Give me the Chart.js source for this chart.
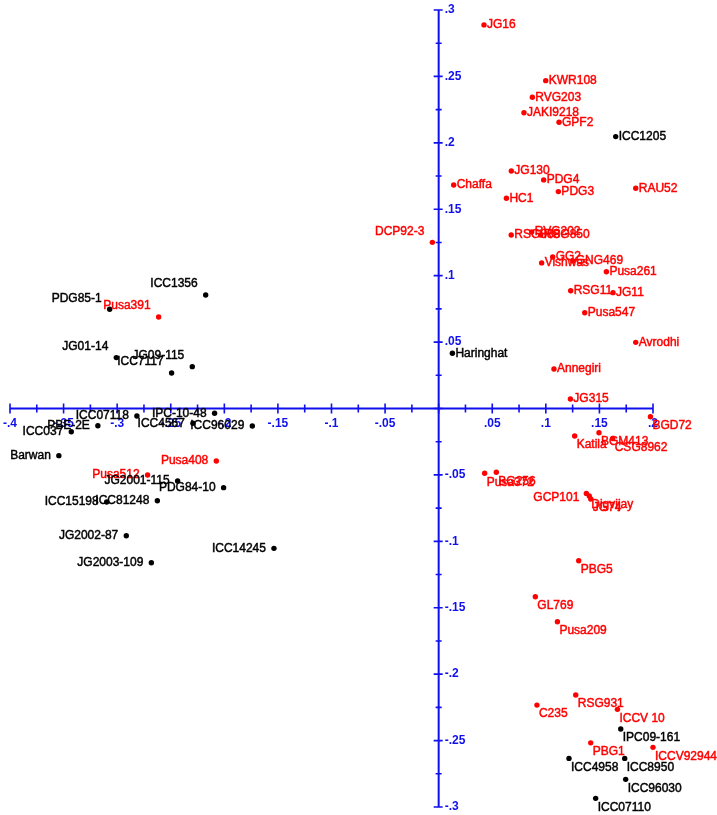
<!DOCTYPE html>
<html>
<head>
<meta charset="utf-8">
<title>Genotype scatter</title>
<script src="https://cdn.jsdelivr.net/npm/chart.js@4.4.0/dist/chart.umd.min.js"></script>
<style>
    html, body { margin: 0; padding: 0; background: #fff; }
    #wrap { width: 717px; height: 815px; }
</style>
</head>
<body>
<div id="wrap"><canvas id="pcaChart" width="717" height="815"></canvas></div>
<script>
// Genotipos en rojo
const redNames = ['JG16', 'KWR108', 'RVG203', 'JAKI9218', 'GPF2', 'JG130', 'Chaffa', 'PDG4', 'PDG3', 'RAU52',
    'HC1', 'DCP92-3', 'RSG888', 'RVG202', 'RSG850', 'Vishwas', 'GG2', 'GNG469', 'Pusa261', 'RSG11',
    'JG11', 'Pusa547', 'Avrodhi', 'Annegiri', 'JG315', 'BGD72', 'BGM413', 'Katila', 'CSG8962', 'Pusa372',
    'BG256', 'GCP101', 'Digvijay', 'JG74', 'PBG5', 'GL769', 'Pusa209', 'RSG931', 'C235', 'ICCV 10',
    'PBG1', 'ICCV92944', 'Pusa391', 'Pusa408', 'Pusa512'];
const redX = [0.0423, 0.0999, 0.0874, 0.0796, 0.1123, 0.0678, 0.0140, 0.0980, 0.1117, 0.1839,
    0.0632, -0.0059, 0.0677, 0.0868, 0.0952, 0.0961, 0.1064, 0.1251, 0.1565, 0.1232,
    0.1627, 0.1363, 0.1839, 0.1076, 0.1229, 0.1976, 0.1496, 0.1269, 0.1624, 0.0429,
    0.0538, 0.1378, 0.1405, 0.1419, 0.1307, 0.0902, 0.1108, 0.1279, 0.0917, 0.1668,
    0.1419, 0.2000, -0.2613, -0.2075, -0.2716];
const redY = [0.2888, 0.2468, 0.2343, 0.2227, 0.2155, 0.1788, 0.1683, 0.1721, 0.1633, 0.1658,
    0.1583, 0.1251, 0.1306, 0.1329, 0.1306, 0.1096, 0.1141, 0.1111, 0.1030, 0.0887,
    0.0872, 0.0721, 0.0498, 0.0297, 0.0072, -0.0062, -0.0182, -0.0207, -0.0226, -0.0488,
    -0.0480, -0.0639, -0.0659, -0.0681, -0.1146, -0.1417, -0.1605, -0.2157, -0.2233, -0.2265,
    -0.2517, -0.2551, 0.0689, -0.0395, -0.0501];
// posición de la etiqueta (reloj)
const redLabelPos = [3, 3, 3, 3, 3, 3, 3, 3, 3, 3,
    3, 11, 3, 3, 3, 3, 3, 3, 3, 3,
    3, 3, 3, 3, 3, 4, 4, 4, 4, 4,
    4, 8, 4, 4, 4, 4, 4, 4, 4, 4,
    4, 4, 11, 9, 9];

// Genotipos en negro
const blackNames = ['ICC1205', 'Haringhat', 'IPC09-161', 'ICC4958', 'ICC8950', 'ICC96030', 'ICC07110', 'ICC1356', 'PDG85-1', 'JG01-14',
    'JG09-115', 'ICC7117', 'ICC037', 'PBE-2E', 'ICC07118', 'ICC4567', 'IPC-10-48', 'ICC96029', 'Barwan', 'JG2001-115',
    'PDG84-10', 'ICC15198', 'ICC81248', 'JG2002-87', 'JG2003-109', 'ICC14245'];
const blackX = [0.1652, 0.0128, 0.1699, 0.1216, 0.1736, 0.1745, 0.1465, -0.2174, -0.3070, -0.3008,
    -0.2299, -0.2492, -0.3428, -0.3180, -0.2816, -0.2293, -0.2091, -0.1739, -0.3544, -0.2436,
    -0.2007, -0.3098, -0.2625, -0.2915, -0.2681, -0.1537];
const blackY = [0.2047, 0.0416, -0.2413, -0.2634, -0.2634, -0.2792, -0.2935, 0.0855, 0.0747, 0.0383,
    0.0315, 0.0267, -0.0175, -0.0130, -0.0056, -0.0111, -0.0036, -0.0132, -0.0355, -0.0546,
    -0.0596, -0.0704, -0.0694, -0.0958, -0.1161, -0.1053];
const blackLabelPos = [3, 3, 4, 4, 4, 4, 4, 11, 11, 11,
    11, 11, 9, 9, 9, 9, 9, 9, 9, 9,
    9, 9, 9, 9, 9, 9];

// Marcas de los ejes
const xTicks = [-0.4, -0.35, -0.3, -0.25, -0.2, -0.15, -0.1, -0.05, 0, 0.05, 0.1, 0.15, 0.2];
const yTicks = [0.3, 0.25, 0.2, 0.15, 0.1, 0.05, 0, -0.05, -0.1, -0.15, -0.2, -0.25, -0.3];

const AXIS_BLUE = '#1010ee';
const FONT = '"Liberation Sans", Arial, sans-serif';

/**
 * Formato estilo Stata: .05, -.1
 */
function tickText(v) {
    if (Math.abs(v) < 1e-9) return '';
    const s = Math.abs(v).toFixed(2).replace(/0+$/, '').replace(/^0/, '');
    return (v < 0 ? '-' : '') + s;
}

/**
 * Ejes que se cruzan en el origen
 */
const crossAxes = {
    id: 'crossAxes',
    beforeDatasetsDraw(chart) {
        const { ctx, scales: { x, y } } = chart;
        const x0 = x.getPixelForValue(0);
        const y0 = y.getPixelForValue(0);

        ctx.save();
        ctx.strokeStyle = AXIS_BLUE;
        ctx.lineWidth = 2;
        ctx.beginPath();
        ctx.moveTo(x.getPixelForValue(xTicks[0]), y0);
        ctx.lineTo(x.getPixelForValue(xTicks[xTicks.length - 1]), y0);
        ctx.moveTo(x0, y.getPixelForValue(yTicks[0]));
        ctx.lineTo(x0, y.getPixelForValue(yTicks[yTicks.length - 1]));
        ctx.stroke();

        ctx.lineWidth = 1.6;
        ctx.beginPath();
        xTicks.forEach((v, i) => {
            const px = x.getPixelForValue(v);
            ctx.moveTo(px, y0 - 5);
            ctx.lineTo(px, y0 + 5);
            if (i < xTicks.length - 1) {
                const pm = x.getPixelForValue((v + xTicks[i + 1]) / 2);
                ctx.moveTo(pm, y0 - 4);
                ctx.lineTo(pm, y0 + 4);
            }
        });
        yTicks.forEach((v, i) => {
            const py = y.getPixelForValue(v);
            ctx.moveTo(x0 - 5, py);
            ctx.lineTo(x0 + 4, py);
            if (i < yTicks.length - 1) {
                const pm = y.getPixelForValue((v + yTicks[i + 1]) / 2);
                ctx.moveTo(x0 - 3, pm);
                ctx.lineTo(x0 + 3, pm);
            }
        });
        ctx.stroke();

        ctx.fillStyle = AXIS_BLUE;
        ctx.font = 'bold 12px ' + FONT;
        ctx.textAlign = 'center';
        ctx.textBaseline = 'middle';
        xTicks.forEach(v => {
            ctx.fillText(tickText(v), x.getPixelForValue(v), y0 + 15);
        });
        ctx.textAlign = 'left';
        yTicks.forEach(v => {
            ctx.fillText(tickText(v), x0 + 6, y.getPixelForValue(v));
        });
        ctx.restore();
    }
};

/**
 * Etiquetas de cada punto
 */
const pointLabels = {
    id: 'pointLabels',
    afterDatasetsDraw(chart) {
        const ctx = chart.ctx;
        ctx.save();
        ctx.font = '12px ' + FONT;
        ctx.textBaseline = 'middle';
        ctx.lineWidth = 0.45;
        chart.data.datasets.forEach((ds, d) => {
            const meta = chart.getDatasetMeta(d);
            ctx.fillStyle = ds.backgroundColor;
            ctx.strokeStyle = ds.backgroundColor;
            meta.data.forEach((pt, i) => {
                const pos = ds.labelPos[i];
                let tx = pt.x + 3, ty = pt.y;
                ctx.textAlign = 'left';
                if (pos === 4) { tx = pt.x + 2; ty = pt.y + 9; }
                if (pos === 9) { ctx.textAlign = 'right'; tx = pt.x - 8; }
                if (pos === 8) { ctx.textAlign = 'right'; tx = pt.x - 7; ty = pt.y + 4; }
                if (pos === 11) { ctx.textAlign = 'right'; tx = pt.x - 8; ty = pt.y - 11; }
                ctx.fillText(ds.names[i], tx, ty);
                ctx.strokeText(ds.names[i], tx, ty);
            });
        });
        ctx.restore();
    }
};

new Chart(document.getElementById('pcaChart'), {
    type: 'scatter',
    data: {
        datasets: [{
            data: redX.map((v, i) => ({ x: v, y: redY[i] })),
            names: redNames,
            labelPos: redLabelPos,
            backgroundColor: '#ff0000',
            borderWidth: 0,
            pointRadius: 2.7,
            clip: false,
        }, {
            data: blackX.map((v, i) => ({ x: v, y: blackY[i] })),
            names: blackNames,
            labelPos: blackLabelPos,
            backgroundColor: '#000000',
            borderWidth: 0,
            pointRadius: 2.7,
            clip: false,
        }],
    },
    options: {
        responsive: false,
        animation: false,
        events: [],
        layout: { padding: { left: 10, right: 64, top: 10, bottom: 8 } },
        scales: {
            x: { type: 'linear', min: -0.4, max: 0.2, display: false },
            y: { type: 'linear', min: -0.3, max: 0.3, display: false },
        },
        plugins: {
            legend: { display: false },
            tooltip: { enabled: false },
        },
    },
    plugins: [crossAxes, pointLabels],
});
</script>
</body>
</html>
